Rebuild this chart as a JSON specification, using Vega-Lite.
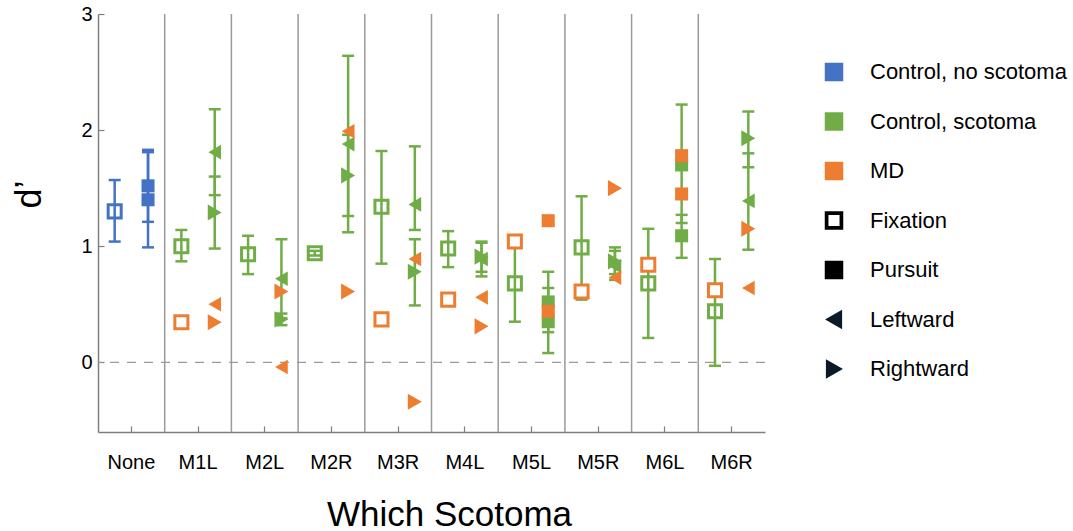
{
  "$schema": "https://vega.github.io/schema/vega-lite/v6.json",
  "autosize": "none",
  "width": 667,
  "height": 418,
  "padding": {"left": 98, "top": 14, "right": 308, "bottom": 99},
  "background": "white",
  "config": {
    "view": {"stroke": null},
    "font": "Liberation Sans",
    "axis": {"labelFont": "Liberation Sans", "titleFont": "Liberation Sans", "labelColor": "#000000", "titleColor": "#000000", "titleFontWeight": "normal", "grid": false, "domainColor": "#7f7f7f", "domainWidth": 1.5, "tickColor": "#7f7f7f", "tickWidth": 1.2}
  },
  "datasets": {
    "pts": [
      {"cat": "None", "cond": "Fixation", "dir": "Both", "group": "Control, no scotoma", "d": 1.30, "lo": 1.04, "hi": 1.57},
      {"cat": "None", "cond": "Pursuit", "dir": "Both", "group": "Control, no scotoma", "d": 1.52, "lo": 1.21, "hi": 1.83},
      {"cat": "None", "cond": "Pursuit", "dir": "Both", "group": "Control, no scotoma", "d": 1.40, "lo": 0.99, "hi": 1.81},
      {"cat": "M1L", "cond": "Fixation", "dir": "Both", "group": "Control, scotoma", "d": 1.00, "lo": 0.87, "hi": 1.14},
      {"cat": "M1L", "cond": "Pursuit", "dir": "Leftward", "group": "Control, scotoma", "d": 1.81, "lo": 1.44, "hi": 2.18},
      {"cat": "M1L", "cond": "Pursuit", "dir": "Rightward", "group": "Control, scotoma", "d": 1.29, "lo": 0.98, "hi": 1.60},
      {"cat": "M2L", "cond": "Fixation", "dir": "Both", "group": "Control, scotoma", "d": 0.93, "lo": 0.76, "hi": 1.09},
      {"cat": "M2L", "cond": "Pursuit", "dir": "Leftward", "group": "Control, scotoma", "d": 0.72, "lo": 0.38, "hi": 1.06},
      {"cat": "M2L", "cond": "Pursuit", "dir": "Rightward", "group": "Control, scotoma", "d": 0.37, "lo": 0.32, "hi": 0.42},
      {"cat": "M2R", "cond": "Fixation", "dir": "Both", "group": "Control, scotoma", "d": 0.94, "lo": 0.92, "hi": 0.96},
      {"cat": "M2R", "cond": "Pursuit", "dir": "Leftward", "group": "Control, scotoma", "d": 1.88, "lo": 1.12, "hi": 2.64},
      {"cat": "M2R", "cond": "Pursuit", "dir": "Rightward", "group": "Control, scotoma", "d": 1.61, "lo": 1.26, "hi": 1.96},
      {"cat": "M3R", "cond": "Fixation", "dir": "Both", "group": "Control, scotoma", "d": 1.34, "lo": 0.85, "hi": 1.82},
      {"cat": "M3R", "cond": "Pursuit", "dir": "Leftward", "group": "Control, scotoma", "d": 1.36, "lo": 1.14, "hi": 1.86},
      {"cat": "M3R", "cond": "Pursuit", "dir": "Rightward", "group": "Control, scotoma", "d": 0.78, "lo": 0.49, "hi": 1.06},
      {"cat": "M4L", "cond": "Fixation", "dir": "Both", "group": "Control, scotoma", "d": 0.98, "lo": 0.82, "hi": 1.13},
      {"cat": "M4L", "cond": "Pursuit", "dir": "Leftward", "group": "Control, scotoma", "d": 0.89, "lo": 0.74, "hi": 1.04},
      {"cat": "M4L", "cond": "Pursuit", "dir": "Rightward", "group": "Control, scotoma", "d": 0.91, "lo": 0.78, "hi": 1.03},
      {"cat": "M5L", "cond": "Fixation", "dir": "Both", "group": "Control, scotoma", "d": 0.68, "lo": 0.35, "hi": 1.01},
      {"cat": "M5L", "cond": "Pursuit", "dir": "Both", "group": "Control, scotoma", "d": 0.52, "lo": 0.26, "hi": 0.78},
      {"cat": "M5L", "cond": "Pursuit", "dir": "Both", "group": "Control, scotoma", "d": 0.35, "lo": 0.08, "hi": 0.64},
      {"cat": "M5R", "cond": "Fixation", "dir": "Both", "group": "Control, scotoma", "d": 0.99, "lo": 0.54, "hi": 1.43},
      {"cat": "M5R", "cond": "Pursuit", "dir": "Leftward", "group": "Control, scotoma", "d": 0.83, "lo": 0.71, "hi": 0.96},
      {"cat": "M5R", "cond": "Pursuit", "dir": "Rightward", "group": "Control, scotoma", "d": 0.87, "lo": 0.76, "hi": 0.99},
      {"cat": "M6L", "cond": "Fixation", "dir": "Both", "group": "Control, scotoma", "d": 0.68, "lo": 0.21, "hi": 1.15},
      {"cat": "M6L", "cond": "Pursuit", "dir": "Both", "group": "Control, scotoma", "d": 1.70, "lo": 1.20, "hi": 2.22},
      {"cat": "M6L", "cond": "Pursuit", "dir": "Both", "group": "Control, scotoma", "d": 1.09, "lo": 0.90, "hi": 1.27},
      {"cat": "M6R", "cond": "Fixation", "dir": "Both", "group": "Control, scotoma", "d": 0.44, "lo": -0.03, "hi": 0.89},
      {"cat": "M6R", "cond": "Pursuit", "dir": "Rightward", "group": "Control, scotoma", "d": 1.93, "lo": 1.68, "hi": 2.16},
      {"cat": "M6R", "cond": "Pursuit", "dir": "Leftward", "group": "Control, scotoma", "d": 1.39, "lo": 0.97, "hi": 1.80},
      {"cat": "M1L", "cond": "Fixation", "dir": "Both", "group": "MD", "d": 0.345},
      {"cat": "M1L", "cond": "Pursuit", "dir": "Leftward", "group": "MD", "d": 0.50},
      {"cat": "M1L", "cond": "Pursuit", "dir": "Rightward", "group": "MD", "d": 0.345},
      {"cat": "M2L", "cond": "Pursuit", "dir": "Rightward", "group": "MD", "d": 0.61},
      {"cat": "M2L", "cond": "Pursuit", "dir": "Leftward", "group": "MD", "d": -0.04},
      {"cat": "M2R", "cond": "Pursuit", "dir": "Leftward", "group": "MD", "d": 1.99},
      {"cat": "M2R", "cond": "Pursuit", "dir": "Rightward", "group": "MD", "d": 0.61},
      {"cat": "M3R", "cond": "Fixation", "dir": "Both", "group": "MD", "d": 0.37},
      {"cat": "M3R", "cond": "Pursuit", "dir": "Leftward", "group": "MD", "d": 0.89},
      {"cat": "M3R", "cond": "Pursuit", "dir": "Rightward", "group": "MD", "d": -0.34},
      {"cat": "M4L", "cond": "Fixation", "dir": "Both", "group": "MD", "d": 0.54},
      {"cat": "M4L", "cond": "Pursuit", "dir": "Leftward", "group": "MD", "d": 0.56},
      {"cat": "M4L", "cond": "Pursuit", "dir": "Rightward", "group": "MD", "d": 0.31},
      {"cat": "M5L", "cond": "Fixation", "dir": "Both", "group": "MD", "d": 1.04},
      {"cat": "M5L", "cond": "Pursuit", "dir": "Both", "group": "MD", "d": 0.44},
      {"cat": "M5L", "cond": "Pursuit", "dir": "Both", "group": "MD", "d": 1.22},
      {"cat": "M5R", "cond": "Fixation", "dir": "Both", "group": "MD", "d": 0.61},
      {"cat": "M5R", "cond": "Pursuit", "dir": "Rightward", "group": "MD", "d": 1.50},
      {"cat": "M5R", "cond": "Pursuit", "dir": "Leftward", "group": "MD", "d": 0.73},
      {"cat": "M6L", "cond": "Fixation", "dir": "Both", "group": "MD", "d": 0.84},
      {"cat": "M6L", "cond": "Pursuit", "dir": "Both", "group": "MD", "d": 1.78},
      {"cat": "M6L", "cond": "Pursuit", "dir": "Both", "group": "MD", "d": 1.45},
      {"cat": "M6R", "cond": "Fixation", "dir": "Both", "group": "MD", "d": 0.62},
      {"cat": "M6R", "cond": "Pursuit", "dir": "Rightward", "group": "MD", "d": 1.15},
      {"cat": "M6R", "cond": "Pursuit", "dir": "Leftward", "group": "MD", "d": 0.64}
    ],
    "seps": [{"cat": "M1L"}, {"cat": "M2L"}, {"cat": "M2R"}, {"cat": "M3R"}, {"cat": "M4L"}, {"cat": "M5L"}, {"cat": "M5R"}, {"cat": "M6L"}, {"cat": "M6R"}]
  },
  "encoding": {
    "x": {
      "field": "cat", "type": "nominal",
      "scale": {"type": "band", "domain": ["None", "M1L", "M2L", "M2R", "M3R", "M4L", "M5L", "M5R", "M6L", "M6R"], "paddingInner": 0, "paddingOuter": 0},
      "axis": {"title": "Which Scotoma", "labelAngle": 0, "labelFontSize": 20, "tickSize": -6, "labelPadding": 26, "titleFontSize": 35, "titleX": 351, "titleY": 93, "titleBaseline": "alphabetic", "titleAnchor": null}
    }
  },
  "layer": [
    {
      "data": {"name": "seps"},
      "mark": {"type": "rule", "color": "#9a9a9a", "strokeWidth": 1.5},
      "encoding": {"x": {"field": "cat", "type": "nominal", "bandPosition": 0}}
    },
    {
      "data": {"values": [{"v": 0}]},
      "mark": {"type": "rule", "color": "#9a9a9a", "strokeWidth": 1.2, "strokeDash": [9, 8]},
      "encoding": {
        "x": null,
        "y": {"field": "v", "type": "quantitative", "scale": {"domain": [-0.6, 3], "nice": false, "zero": false},
          "axis": {"values": [0, 1, 2, 3], "format": ".0f", "title": "d’", "tickSize": -6, "labelFontSize": 20, "labelPadding": 12, "titleFontSize": 36, "titleAngle": 270, "titleX": -58, "titleY": 180, "titleBaseline": "alphabetic", "titleAlign": "center", "titleAnchor": null}}
      }
    },
    {
      "data": {"name": "pts"},
      "transform": [{"filter": "isValid(datum.lo)"}],
      "mark": {"type": "rule", "strokeWidth": 2.5, "opacity": 1},
      "encoding": {
        "xOffset": {"field": "cond", "type": "nominal", "scale": {"domain": ["Fixation", "Pursuit"], "paddingInner": 0, "paddingOuter": 0}},
        "y": {"field": "lo", "type": "quantitative"},
        "y2": {"field": "hi"},
        "color": {"field": "group", "type": "nominal"}
      }
    },
    {
      "data": {"name": "pts"},
      "transform": [{"filter": "isValid(datum.lo)"}],
      "mark": {"type": "point", "shape": "M-1,0H1", "filled": false, "strokeWidth": 2.5, "size": 144, "opacity": 1},
      "encoding": {
        "xOffset": {"field": "cond", "type": "nominal"},
        "y": {"field": "lo", "type": "quantitative"},
        "color": {"field": "group", "type": "nominal"}
      }
    },
    {
      "data": {"name": "pts"},
      "transform": [{"filter": "isValid(datum.hi)"}],
      "mark": {"type": "point", "shape": "M-1,0H1", "filled": false, "strokeWidth": 2.5, "size": 144, "opacity": 1},
      "encoding": {
        "xOffset": {"field": "cond", "type": "nominal"},
        "y": {"field": "hi", "type": "quantitative"},
        "color": {"field": "group", "type": "nominal"}
      }
    },
    {
      "data": {"name": "pts"},
      "transform": [{"filter": "datum.cond === 'Fixation'"}],
      "mark": {"type": "point", "shape": "square", "filled": false, "strokeWidth": 3, "size": 170, "opacity": 1},
      "encoding": {
        "xOffset": {"field": "cond", "type": "nominal"},
        "y": {"field": "d", "type": "quantitative"},
        "fill": {"condition": {"test": "datum.group === 'MD'", "value": "#ffffff"}, "value": "transparent"},
        "color": {"field": "group", "type": "nominal"}
      }
    },
    {
      "data": {"name": "pts"},
      "transform": [{"filter": "datum.cond === 'Pursuit'"}],
      "mark": {"type": "point", "filled": true, "opacity": 1},
      "encoding": {
        "xOffset": {"field": "cond", "type": "nominal"},
        "y": {"field": "d", "type": "quantitative"},
        "shape": {"field": "dir", "type": "nominal", "scale": {"domain": ["Both", "Leftward", "Rightward"], "range": ["square", "triangle-left", "triangle-right"]}, "legend": null},
        "size": {"field": "dir", "type": "nominal", "scale": {"domain": ["Both", "Leftward", "Rightward"], "range": [170, 260, 260]}, "legend": null},
        "color": {
          "field": "group", "type": "nominal",
          "scale": {"domain": ["Control, no scotoma", "Control, scotoma", "MD", "Fixation", "Pursuit", "Leftward", "Rightward"], "range": ["#4472C4", "#70AD47", "#ED7D31", "#000000", "#000000", "#0a1a28", "#0a1a28"]},
          "legend": {
            "title": null, "orient": "none", "legendX": 725, "legendY": 47, "padding": 0,
            "labelFont": "Liberation Sans", "labelFontSize": 22, "labelColor": "#000000", "labelLimit": 400,
            "symbolSize": 289, "symbolOpacity": 1, "rowPadding": 25.5, "labelOffset": 25,
            "encode": {"symbols": {"update": {
              "shape": {"signal": "datum.value === 'Leftward' ? 'triangle-left' : datum.value === 'Rightward' ? 'triangle-right' : datum.value === 'Fixation' ? 'M-1,-1H1V1H-1Z M-0.74,-0.74V0.74H0.74V-0.74Z' : 'square'"},
              "opacity": {"value": 1}
            }}}
          }
        }
      }
    }
  ]
}
